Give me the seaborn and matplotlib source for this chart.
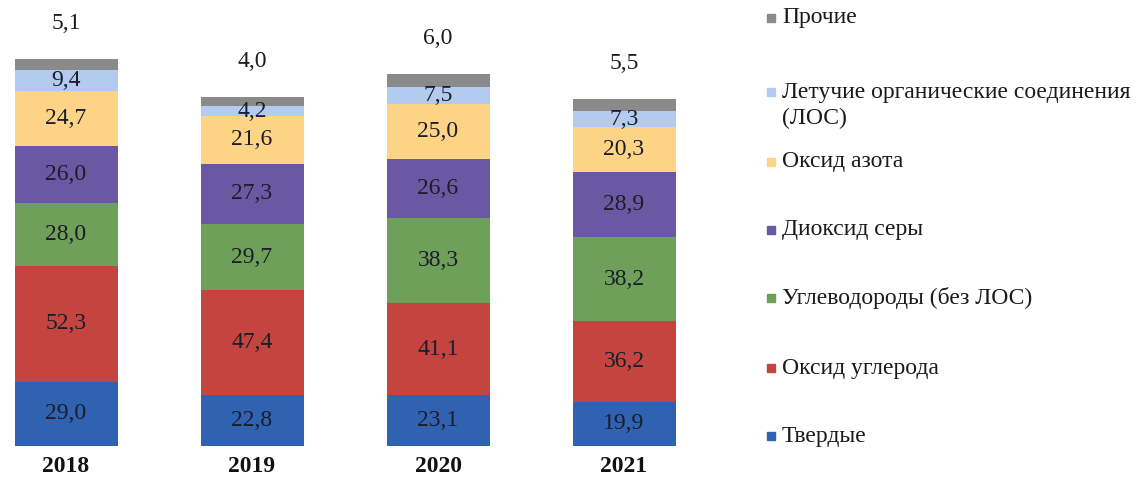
import numpy as np
import pandas as pd
import matplotlib
matplotlib.use("Agg")
import matplotlib.pyplot as plt
import seaborn as sns
from matplotlib.lines import Line2D

# ---- data ----
years = ["2018", "2019", "2020", "2021"]
categories = ["Твердые", "Оксид углерода", "Углеводороды (без ЛОС)", "Диоксид серы",
              "Оксид азота", "Летучие органические соединения\n(ЛОС)", "Прочие"]
tverdye = [29.0, 22.8, 23.1, 19.9]
oksid_ugleroda = [52.3, 47.4, 41.1, 36.2]
uglevodorody = [28.0, 29.7, 38.3, 38.2]
dioksid_sery = [26.0, 27.3, 26.6, 28.9]
oksid_azota = [24.7, 21.6, 25.0, 20.3]
los = [9.4, 4.2, 7.5, 7.3]
prochie = [5.1, 4.0, 6.0, 5.5]
series = [tverdye, oksid_ugleroda, uglevodorody, dioksid_sery, oksid_azota, los, prochie]
colors = ["#2f62b0", "#c4453f", "#6fa05a", "#6a59a2", "#fdd486", "#b3cbef", "#8a8a8a"]

sns.set_theme(style="white")
plt.rcParams["font.family"] = ["Liberation Serif", "DejaVu Serif"]

fig = plt.figure(figsize=(11.41, 4.86), dpi=100)
ax = fig.add_axes([0.0, 40 / 486, 740 / 1141, 446 / 486])

vals = np.array(series)
cum = np.cumsum(vals, axis=0)
bw = 103 / 186
FS = 17

# draw cumulative bars from the tallest down so each layer shows as a stacked segment
for i in range(len(series) - 1, -1, -1):
    df = pd.DataFrame({"year": years, "total": cum[i]})
    sns.barplot(data=df, x="year", y="total", color=colors[i], saturation=1,
                width=bw, linewidth=0, ax=ax, order=years)

def fmt(v):
    return f"{v:.1f}".replace(".", ",")

for j in range(len(years)):
    for i in range(len(series) - 1):
        bottom = cum[i][j] - vals[i][j]
        ax.text(j, bottom + vals[i][j] / 2, fmt(vals[i][j]), ha="center", va="center",
                fontsize=FS, color="#1c1c2a")
    ax.text(j, cum[-1][j] + 16, fmt(vals[-1][j]), ha="center", va="center",
            fontsize=FS, color="#1c1c1c")

ax.set_xlim(-66 / 186, (740 - 66) / 186)
ax.set_ylim(0, 446 / 2.22)
ax.set_xlabel("")
ax.set_ylabel("")
ax.set_yticks([])
for s in ax.spines.values():
    s.set_visible(False)
ax.tick_params(axis="x", length=0, pad=7)
for lab in ax.get_xticklabels():
    lab.set_fontweight("bold")
    lab.set_fontsize(FS)
    lab.set_color("#111111")

# legend (top to bottom: Прочие ... Твердые)
leg_y = [18, 106, 162, 230, 298, 368, 436]
for k, i in enumerate(range(len(series) - 1, -1, -1)):
    yc = 1 - leg_y[k] / 486
    ymark = yc if "\n" not in categories[i] else 1 - 92 / 486
    fig.add_artist(Line2D([771 / 1141], [ymark], marker="s", markersize=6,
                          color=colors[i], linestyle="none", transform=fig.transFigure))
    fig.text(782 / 1141, yc, categories[i], ha="left", va="center", fontsize=FS,
             color="#1a1a1a", linespacing=1.3)

fig.savefig("out.png", dpi=100)
